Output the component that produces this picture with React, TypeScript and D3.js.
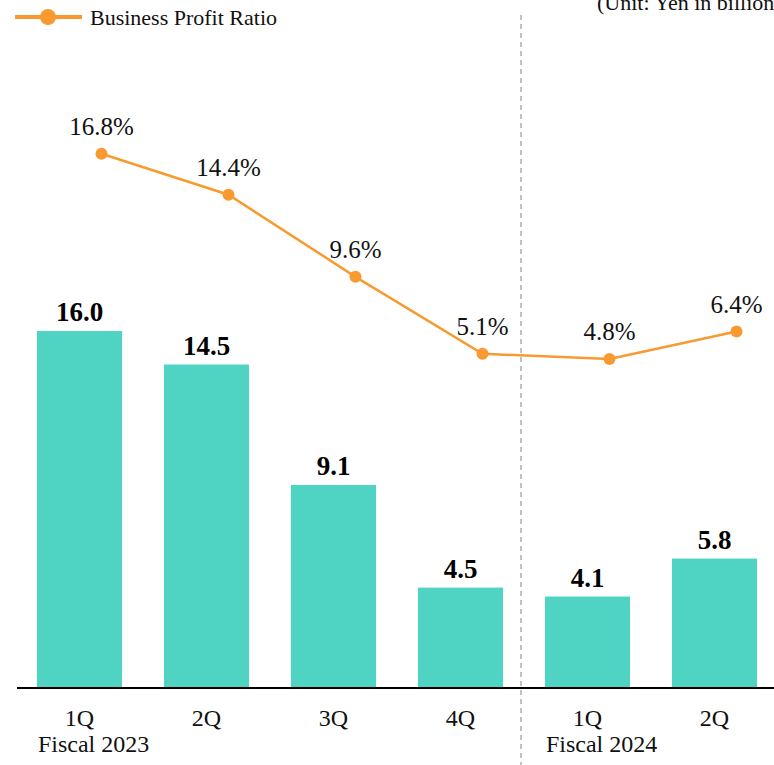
import React from "react";
import * as d3 from "d3";

const quarters = ["1Q", "2Q", "3Q", "4Q", "1Q", "2Q"];
const keys = ["FY23-1Q", "FY23-2Q", "FY23-3Q", "FY23-4Q", "FY24-1Q", "FY24-2Q"];
const profit = [16.0, 14.5, 9.1, 4.5, 4.1, 5.8];
const ratio = [16.8, 14.4, 9.6, 5.1, 4.8, 6.4];
const fiscalLabels = [
  { key: "FY23-1Q", label: "Fiscal 2023" },
  { key: "FY24-1Q", label: "Fiscal 2024" },
];
const legendLabel = "Business Profit Ratio";
const unitLabel = "(Unit: Yen in billions)";

const W = 774;
const H = 765;
const BAR = "#4FD4C4";
const ORANGE = "#F99A31";
const FONT = "'Liberation Serif', 'Times New Roman', serif";

export default function App() {
  const x = d3.scaleBand<string>().domain(keys).range([16, 778]).paddingInner(0.33).paddingOuter(0.165);
  const yBar = d3.scaleLinear().domain([0, 20]).range([688, 688 - 22.31 * 20]);
  const yLine = d3.scaleLinear().domain([0, 20]).range([441, 441 - 17.1 * 20]);
  const bw = x.bandwidth();
  const px = (k: string) => (x(k) as number) + bw / 2 + 22;
  const pts = keys.map((k, i) => [px(k), yLine(ratio[i])] as [number, number]);
  const line = d3.line();
  const dividerX = ((x("FY23-4Q") as number) + bw + (x("FY24-1Q") as number)) / 2 - 3;
  const T = { fontFamily: FONT };

  return (
    <svg width={W} height={H} style={{ position: "absolute", left: 0, top: 0, display: "block" }}>
      <rect width={W} height={H} fill="#fff" />
      {/* legend */}
      <line x1={15} x2={82} y1={17} y2={17} stroke={ORANGE} strokeWidth={4} />
      <circle cx={48} cy={17} r={8} fill={ORANGE} />
      <text x={90} y={25} fontSize={22} fill="#111" style={T}>{legendLabel}</text>
      <text x={597} y={10} fontSize={22} fill="#111" style={T}>{unitLabel}</text>

      {/* divider */}
      <line x1={dividerX} x2={dividerX} y1={15} y2={H} stroke="#999" strokeWidth={1.2} strokeDasharray="5,4" />

      {/* bars */}
      {keys.map((k, i) => (
        <g key={k}>
          <rect x={x(k)} y={yBar(profit[i])} width={bw} height={yBar(0) - yBar(profit[i])} fill={BAR} />
          <text x={(x(k) as number) + bw / 2} y={yBar(profit[i]) - 10} textAnchor="middle" fontSize={27} fontWeight="bold" fill="#000" style={T}>
            {profit[i].toFixed(1)}
          </text>
        </g>
      ))}

      {/* axis */}
      <line x1={17} x2={W} y1={688} y2={688} stroke="#000" strokeWidth={2} />
      {keys.map((k, i) => (
        <text key={k} x={(x(k) as number) + bw / 2} y={726} textAnchor="middle" fontSize={24} fill="#111" style={T}>
          {quarters[i]}
        </text>
      ))}
      {fiscalLabels.map((f) => (
        <text key={f.key} x={(x(f.key) as number) + 1} y={752} fontSize={24} fill="#111" style={T}>
          {f.label}
        </text>
      ))}

      {/* line */}
      <path d={line(pts) || ""} fill="none" stroke={ORANGE} strokeWidth={2.5} />
      {pts.map((p, i) => (
        <g key={keys[i]}>
          <circle cx={p[0]} cy={p[1]} r={6} fill={ORANGE} />
          <text x={p[0]} y={p[1] - 19} textAnchor="middle" fontSize={25} fill="#111" style={T}>
            {ratio[i].toFixed(1) + "%"}
          </text>
        </g>
      ))}
    </svg>
  );
}
